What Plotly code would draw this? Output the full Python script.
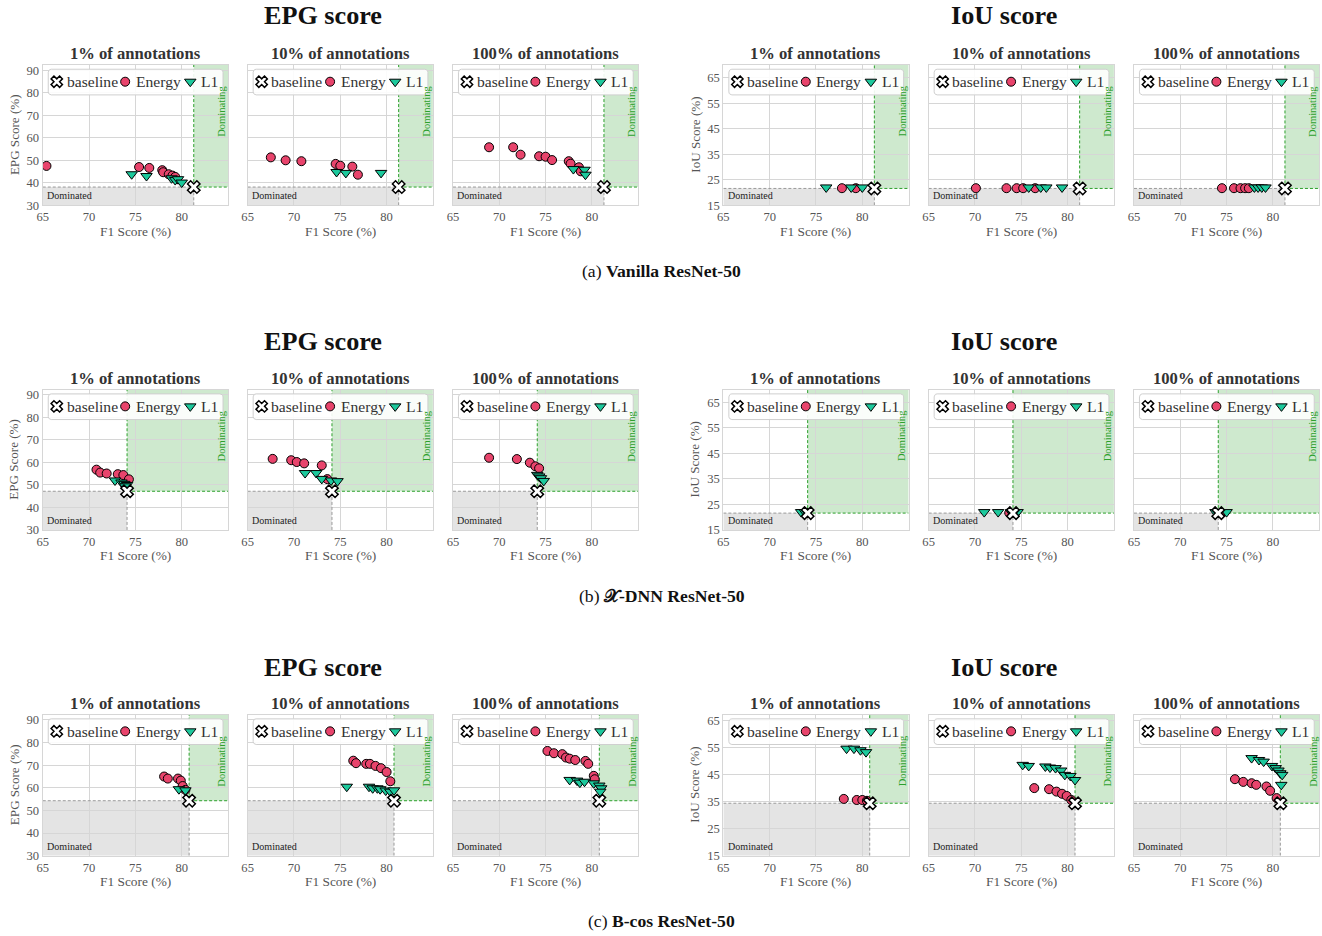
import plotly.graph_objects as go
import math

# ---------------- data ----------------
X_TICKS = [65, 70, 75, 80]
X_RANGE = [65, 85]
EPG_TICKS = [30, 40, 50, 60, 70, 80, 90]
IOU_TICKS = [15, 25, 35, 45, 55, 65]
EPG_RANGE = [30, 92.4]
IOU_RANGE_AB = [15, 70]
IOU_RANGE_C = [15, 67.2]
PANEL_TITLES = ["1% of annotations", "10% of annotations", "100% of annotations"]
GROUP_TITLES = ["EPG score", "IoU score"]
Y_TITLES = ["EPG Score (%)", "IoU Score (%)"]
X_TITLE = "F1 Score (%)"
CAPTIONS = ["(a) <b>Vanilla ResNet-50</b>", "(b) <b>\U0001D4B3-DNN ResNet-50</b>", "(c) <b>B-cos ResNet-50</b>"]
LEGEND_NAMES = ["baseline", "Energy", "L1"]

# (a) Vanilla ResNet-50
VAN_BASE_F1 = 81.3
VAN_BASE_EPG = 38.1
VAN_BASE_IOU = 21.6
VAN_EPG1_EN_F1 = [65.4, 75.4, 76.5, 77.9, 78.0, 78.6, 79.0, 79.3]
VAN_EPG1_EN_Y = [47.5, 47.0, 46.6, 45.6, 44.7, 43.8, 43.2, 42.6]
VAN_EPG1_L1_F1 = [74.6, 76.2, 78.9, 79.3, 79.6, 80.0]
VAN_EPG1_L1_Y = [43.8, 43.0, 42.0, 41.2, 41.6, 40.1]
VAN_EPG10_EN_F1 = [67.5, 69.1, 70.8, 74.5, 75.0, 76.3, 76.9]
VAN_EPG10_EN_Y = [51.3, 50.0, 49.6, 48.4, 47.6, 47.2, 43.6]
VAN_EPG10_L1_F1 = [74.6, 75.6, 79.4]
VAN_EPG10_L1_Y = [44.8, 44.4, 44.4]
VAN_EPG100_EN_F1 = [68.9, 71.5, 72.3, 74.3, 75.0, 75.7, 77.5, 77.7, 78.6, 78.8]
VAN_EPG100_EN_Y = [55.8, 55.8, 52.5, 51.8, 51.6, 50.1, 49.6, 48.5, 46.9, 45.1]
VAN_EPG100_L1_F1 = [78.0, 79.2, 79.3]
VAN_EPG100_L1_Y = [46.1, 45.8, 43.6]
VAN_IOU1_EN_F1 = [77.8, 79.3]
VAN_IOU1_EN_Y = [21.7, 21.7]
VAN_IOU1_L1_F1 = [76.1, 78.8, 80.0]
VAN_IOU1_L1_Y = [22.0, 22.0, 22.0]
VAN_IOU10_EN_F1 = [70.1, 73.4, 74.5, 75.2, 76.5]
VAN_IOU10_EN_Y = [21.7, 21.7, 21.7, 21.7, 21.7]
VAN_IOU10_L1_F1 = [75.8, 77.1, 77.7, 79.4]
VAN_IOU10_L1_Y = [22.0, 22.0, 22.0, 22.0]
VAN_IOU100_EN_F1 = [74.5, 75.8, 76.5, 77.0, 77.4]
VAN_IOU100_EN_Y = [21.7, 21.7, 21.7, 21.7, 21.7]
VAN_IOU100_L1_F1 = [78.0, 78.4, 78.8, 79.2]
VAN_IOU100_L1_Y = [22.0, 22.0, 22.0, 22.0]

# (b) X-DNN ResNet-50
XD_BASE_F1 = 74.1
XD_BASE_EPG = 47.2
XD_BASE_IOU = 21.6
XD_EPG1_EN_F1 = [70.8, 71.2, 71.9, 73.1, 73.7, 74.3]
XD_EPG1_EN_Y = [56.8, 55.5, 55.1, 54.8, 54.4, 52.5]
XD_EPG1_L1_F1 = [72.8, 73.5, 73.8, 74.1, 73.9]
XD_EPG1_L1_Y = [52.0, 51.1, 50.5, 50.0, 49.4]
XD_EPG10_EN_F1 = [67.7, 69.7, 70.3, 71.1, 73.0, 73.6]
XD_EPG10_EN_Y = [61.6, 61.0, 60.2, 59.6, 58.7, 52.6]
XD_EPG10_L1_F1 = [71.2, 72.4, 73.0, 74.0, 74.7]
XD_EPG10_L1_Y = [55.3, 55.3, 52.7, 52.0, 51.7]
XD_EPG100_EN_F1 = [68.9, 71.9, 73.3, 73.9, 74.3]
XD_EPG100_EN_Y = [62.1, 61.5, 59.9, 58.3, 57.4]
XD_EPG100_L1_F1 = [74.1, 74.3, 74.5, 74.8]
XD_EPG100_L1_Y = [54.5, 53.8, 53.0, 51.8]
XD_IOU1_EN_F1 = [74.0]
XD_IOU1_EN_Y = [21.7]
XD_IOU1_L1_F1 = [73.4, 73.8]
XD_IOU1_L1_Y = [22.0, 22.0]
XD_IOU10_EN_F1 = [73.7]
XD_IOU10_EN_Y = [21.7]
XD_IOU10_L1_F1 = [71.0, 72.5, 73.9, 74.6]
XD_IOU10_L1_Y = [22.0, 22.0, 22.0, 22.0]
XD_IOU100_EN_F1 = [74.4]
XD_IOU100_EN_Y = [21.7]
XD_IOU100_L1_F1 = [73.8, 75.0]
XD_IOU100_L1_Y = [22.0, 22.0]

# (c) B-cos ResNet-50
BC_BASE_F1 = 80.8
BC_BASE_EPG = 54.3
BC_BASE_IOU = 34.4
BC_EPG1_EN_F1 = [78.1, 78.5, 79.6, 79.9, 80.1, 80.4]
BC_EPG1_EN_Y = [65.0, 64.1, 64.1, 63.2, 60.8, 59.1]
BC_EPG1_L1_F1 = [79.7, 80.4]
BC_EPG1_L1_Y = [59.4, 58.9]
BC_EPG10_EN_F1 = [76.4, 76.7, 77.8, 78.2, 78.8, 79.4, 80.0, 80.4]
BC_EPG10_EN_Y = [72.0, 70.9, 70.6, 70.6, 69.7, 68.7, 67.0, 62.9]
BC_EPG10_L1_F1 = [75.7, 78.1, 78.5, 79.0, 79.3, 79.9, 80.4, 80.8]
BC_EPG10_L1_Y = [60.5, 60.5, 59.8, 59.8, 59.4, 58.8, 58.3, 58.9]
BC_EPG100_EN_F1 = [75.2, 75.9, 76.8, 77.2, 77.6, 78.2, 79.3, 79.6, 80.2, 80.3]
BC_EPG100_EN_Y = [76.3, 75.3, 74.9, 73.4, 72.9, 72.3, 71.9, 70.6, 65.3, 63.8]
BC_EPG100_L1_F1 = [77.6, 78.4, 78.7, 79.2, 80.2, 80.8, 81.0, 80.9]
BC_EPG100_L1_Y = [63.5, 63.2, 62.3, 62.7, 62.0, 61.0, 59.8, 58.3]
BC_IOU1_EN_F1 = [78.0, 79.4, 80.0, 80.5]
BC_IOU1_EN_Y = [36.0, 35.6, 35.6, 35.3]
BC_IOU1_L1_F1 = [78.3, 79.1, 79.8, 80.4]
BC_IOU1_L1_Y = [54.6, 54.6, 54.0, 53.3]
BC_IOU10_EN_F1 = [76.4, 78.0, 78.8, 79.4, 79.9, 80.4]
BC_IOU10_EN_Y = [40.0, 39.6, 38.7, 37.9, 37.1, 35.6]
BC_IOU10_L1_F1 = [75.15, 75.8, 77.6, 78.1, 78.7, 79.3, 79.7, 80.3, 80.8]
BC_IOU10_L1_Y = [48.6, 48.2, 48.0, 47.6, 47.4, 46.5, 44.9, 44.5, 43.0]
BC_IOU100_EN_F1 = [75.9, 76.8, 77.7, 78.2, 79.3, 79.7, 80.4]
BC_IOU100_EN_Y = [43.3, 42.3, 41.8, 41.2, 40.6, 39.0, 36.3]
BC_IOU100_L1_F1 = [77.7, 78.5, 79.0, 79.9, 80.3, 80.6, 80.8, 81.0, 80.9]
BC_IOU100_L1_Y = [51.1, 50.4, 49.8, 48.2, 47.4, 46.5, 45.5, 44.9, 41.2]

# ---------------- styling / layout constants ----------------
W, H = 1322, 936
# the photographed page maps figure px f -> OX + SX*f (x), SY*f (y); compensate
OX, SX, SY = 6.0, 0.994, 0.9925
FS = 1.0 / 0.993  # font/marker compensation

def fx(px):
    return (px - OX) / SX

def fy(py):
    return py / SY

FONT = "Liberation Serif"
EN_COLOR = "#e8446c"
L1_COLOR = "#1cc99c"
GRID = "#d6d6d6"
TXT = "#3a3a3a"
COL_PX = [(42.7, 227.7), (247.3, 432.3), (452.3, 637.3),
          (722.3, 907.3), (927.3, 1112.3), (1132.3, 1317.3)]
ROW_PX = [(64.0, 204.5), (389.0, 529.5), (714.3, 855.6)]
GROUP_CX = [322.5, 1002.5]
GROUP_TITLE_Y = [15, 341, 667]
CAPTION_Y = [270, 596, 921]

panels = []
rows_data = [
    ("VAN", VAN_BASE_F1, VAN_BASE_EPG, VAN_BASE_IOU, IOU_RANGE_AB),
    ("XD", XD_BASE_F1, XD_BASE_EPG, XD_BASE_IOU, IOU_RANGE_AB),
    ("BC", BC_BASE_F1, BC_BASE_EPG, BC_BASE_IOU, IOU_RANGE_C),
]
g = globals()
for r, (pre, bf1, bepg, biou, iou_rng) in enumerate(rows_data):
    for c in range(6):
        metric = "EPG" if c < 3 else "IOU"
        pct = ["1", "10", "100"][c % 3]
        key = f"{pre}_{metric}{pct}"
        panels.append(dict(
            row=r, col=c, metric=metric,
            bf1=bf1, by=bepg if metric == "EPG" else biou,
            yr=EPG_RANGE if metric == "EPG" else iou_rng,
            en_f1=g[key + "_EN_F1"], en_y=g[key + "_EN_Y"],
            l1_f1=g[key + "_L1_F1"], l1_y=g[key + "_L1_Y"],
            title=PANEL_TITLES[c % 3],
        ))

fig = go.Figure()
layout = dict(width=W, height=H, margin=dict(l=0, r=0, t=0, b=0),
              paper_bgcolor="white", plot_bgcolor="rgba(0,0,0,0)",
              showlegend=False, font=dict(family=FONT, color=TXT))
shapes = []
annots = []

OV_X, OV_Y = "x19", "y19"

def txt(x, y, text, size, color=TXT, xanchor="center", yanchor="middle", angle=0):
    annots.append(dict(xref=OV_X, yref=OV_Y, x=x, y=y, text=text, showarrow=False,
                       xanchor=xanchor, yanchor=yanchor, textangle=angle,
                       font=dict(family=FONT, size=size * FS, color=color)))

for k, p in enumerate(panels):
    n = k + 1
    xs = "" if n == 1 else str(n)
    x0p, x1p = COL_PX[p["col"]]
    y0p, y1p = ROW_PX[p["row"]]
    first = p["col"] % 3 == 0
    layout["xaxis" + xs] = dict(
        domain=[fx(x0p) / W, fx(x1p) / W], range=X_RANGE, anchor="y" + xs,
        tickvals=X_TICKS, showgrid=True, gridcolor=GRID, gridwidth=1,
        showline=True, mirror=True, linecolor=GRID, linewidth=1.2,
        zeroline=False, ticks="", tickfont=dict(family=FONT, size=12.5 * FS, color="#555"),
        fixedrange=True)
    layout["yaxis" + xs] = dict(
        domain=[1 - fy(y1p) / H, 1 - fy(y0p) / H], range=p["yr"], anchor="x" + xs,
        tickvals=EPG_TICKS if p["metric"] == "EPG" else IOU_TICKS,
        showticklabels=first,
        showgrid=True, gridcolor=GRID, gridwidth=1,
        showline=True, mirror=True, linecolor=GRID, linewidth=1.2,
        zeroline=False, ticks="", tickfont=dict(family=FONT, size=12.5 * FS, color="#555"),
        fixedrange=True)
    xr, yr = "x" + xs, "y" + xs
    bf1, by = p["bf1"], p["by"]
    ymin, ymax = p["yr"]
    xmin, xmax = X_RANGE
    shapes.append(dict(type="rect", xref=xr, yref=yr, x0=xmin, x1=bf1, y0=ymin, y1=by,
                       fillcolor="#e4e4e4", line=dict(width=0), layer="below"))
    shapes.append(dict(type="rect", xref=xr, yref=yr, x0=bf1, x1=xmax, y0=by, y1=ymax,
                       fillcolor="rgba(44,160,44,0.23)", line=dict(width=0), layer="below"))
    gd = dict(color="#9a9a9a", width=1, dash="3px,2px")
    gr = dict(color="#2ca02c", width=1, dash="3px,2px")
    shapes.append(dict(type="line", xref=xr, yref=yr, x0=xmin, x1=bf1, y0=by, y1=by, line=gd, layer="between"))
    shapes.append(dict(type="line", xref=xr, yref=yr, x0=bf1, x1=bf1, y0=ymin, y1=by, line=gd, layer="between"))
    shapes.append(dict(type="line", xref=xr, yref=yr, x0=bf1, x1=bf1, y0=by, y1=ymax, line=gr, layer="between"))
    shapes.append(dict(type="line", xref=xr, yref=yr, x0=bf1, x1=xmax, y0=by, y1=by, line=gr, layer="between"))
    annots.append(dict(xref=xr + " domain", yref=yr + " domain", x=0.012, y=0.015,
                       xanchor="left", yanchor="bottom", showarrow=False, text="Dominated",
                       font=dict(family=FONT, size=10 * FS, color="#222")))
    annots.append(dict(xref=xr + " domain", yref=yr + " domain", x=0.965, y=0.67,
                       xanchor="center", yanchor="middle", showarrow=False, text="Dominating",
                       textangle=-90, font=dict(family=FONT, size=10.5 * FS, color="#2ca02c")))
    fig.add_trace(go.Scatter(x=p["en_f1"], y=p["en_y"], xaxis=xr, yaxis=yr, mode="markers",
                             marker=dict(symbol="circle", size=9, color=EN_COLOR,
                                         line=dict(color="black", width=1)),
                             hoverinfo="skip"))
    fig.add_trace(go.Scatter(x=p["l1_f1"], y=p["l1_y"], xaxis=xr, yaxis=yr, mode="markers",
                             marker=dict(symbol="triangle-down", size=10, color=L1_COLOR,
                                         line=dict(color="black", width=1)),
                             hoverinfo="skip"))
    fig.add_trace(go.Scatter(x=[bf1], y=[by], xaxis=xr, yaxis=yr, mode="markers",
                             marker=dict(symbol="x", size=11, color="white",
                                         line=dict(color="black", width=1.5)),
                             hoverinfo="skip"))
    cx = (x0p + x1p) / 2
    txt(cx, y0p - 11, "<b>" + p["title"] + "</b>", 16.5, color="#333")
    txt(cx, y1p + 26, X_TITLE, 13.3, color="#555")
    if first:
        txt(x0p - 28.7, (y0p + y1p) / 2, Y_TITLES[0 if p["metric"] == "EPG" else 1], 13,
            color="#555", angle=-90)

# overlay axis expressed directly in reference-pixel coordinates
layout["xaxis19"] = dict(domain=[0, 1], range=[OX, OX + SX * W], visible=False,
                         fixedrange=True, anchor="y19")
layout["yaxis19"] = dict(domain=[0, 1], range=[SY * H, 0], visible=False,
                         fixedrange=True, anchor="x19")

def rounded_rect(xa, ya, xb, yb, r):
    pts = []
    corners = [(xb - r, ya + r, -90, 0), (xb - r, yb - r, 0, 90),
               (xa + r, yb - r, 90, 180), (xa + r, ya + r, 180, 270)]
    for cxr, cyr, a0, a1 in corners:
        for i in range(7):
            a = math.radians(a0 + (a1 - a0) * i / 6)
            pts.append((cxr + r * math.cos(a), cyr + r * math.sin(a)))
    pts.append(pts[0])
    return [q[0] for q in pts], [q[1] for q in pts]

for k, p in enumerate(panels):
    x0p, _ = COL_PX[p["col"]]
    y0p, _ = ROW_PX[p["row"]]
    bx, byy = rounded_rect(x0p + 5.5, y0p + 4.3, x0p + 180.0, y0p + 30.0, 3)
    fig.add_trace(go.Scatter(x=bx, y=byy, xaxis=OV_X, yaxis=OV_Y, mode="lines", fill="toself",
                             fillcolor="rgba(255,255,255,0.9)", line=dict(color="#cfcfcf", width=1),
                             hoverinfo="skip"))
    ly = y0p + 16.8
    sym_x = [x0p + 14.0, x0p + 82.3, x0p + 147.3]
    txt_x = [x0p + 21.8, x0p + 91.0, x0p + 156.0]
    fig.add_trace(go.Scatter(x=[sym_x[0]], y=[ly], xaxis=OV_X, yaxis=OV_Y, mode="markers",
                             marker=dict(symbol="x", size=10, color="white", line=dict(color="black", width=1.5)),
                             hoverinfo="skip"))
    fig.add_trace(go.Scatter(x=[sym_x[1]], y=[ly], xaxis=OV_X, yaxis=OV_Y, mode="markers",
                             marker=dict(symbol="circle", size=9, color=EN_COLOR, line=dict(color="black", width=1)),
                             hoverinfo="skip"))
    fig.add_trace(go.Scatter(x=[sym_x[2]], y=[ly], xaxis=OV_X, yaxis=OV_Y, mode="markers",
                             marker=dict(symbol="triangle-down", size=10, color=L1_COLOR, line=dict(color="black", width=1)),
                             hoverinfo="skip"))
    for i in range(3):
        txt(txt_x[i], ly, LEGEND_NAMES[i], 15.5, color="#333", xanchor="left")

for r in range(3):
    for gi in range(2):
        txt(GROUP_CX[gi], GROUP_TITLE_Y[r], "<b>" + GROUP_TITLES[gi] + "</b>", 26, color="#111")
    txt(661, CAPTION_Y[r], CAPTIONS[r], 17.5, color="#111")

layout["shapes"] = shapes
layout["annotations"] = annots
fig.update_layout(**layout)
fig.write_html("out.html")
